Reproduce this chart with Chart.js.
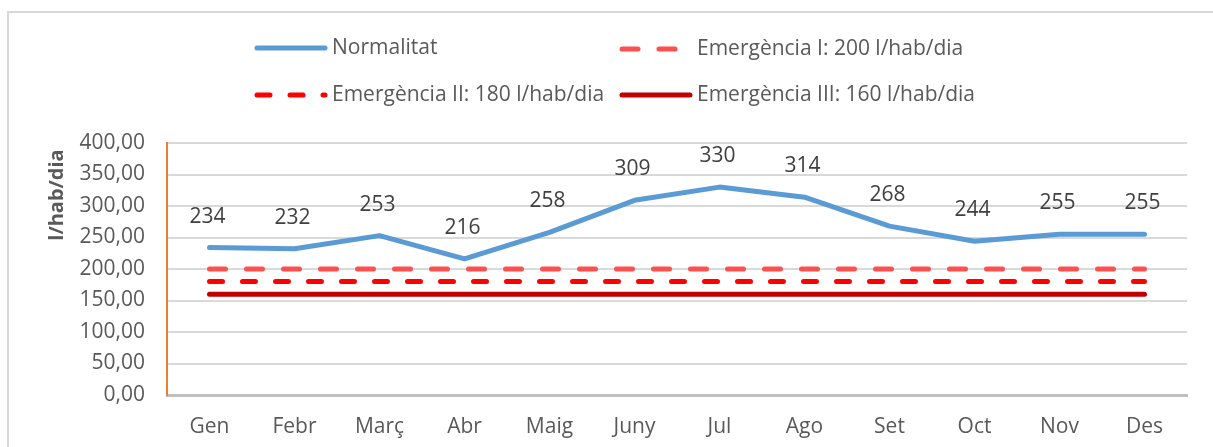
<!DOCTYPE html>
<html>
<head>
<meta charset="utf-8">
<script src="https://cdn.jsdelivr.net/npm/chart.js@4.4.1/dist/chart.umd.min.js"></script>
<style>
  html, body { margin: 0; padding: 0; background: #fff; }
  #wrap { position: relative; width: 1213px; height: 447px; }
</style>
</head>
<body>
<div id="wrap"><canvas id="chart" width="1213" height="447"></canvas></div>
<script>
// months and consumption (l/hab/dia)
const months = ['Gen', 'Febr', 'Març', 'Abr', 'Maig', 'Juny', 'Jul', 'Ago', 'Set', 'Oct', 'Nov', 'Des'];
const normalitat = [234, 232, 253, 216, 258, 309, 330, 314, 268, 244, 255, 255];
const emergencia1 = [200, 200, 200, 200, 200, 200, 200, 200, 200, 200, 200, 200];
const emergencia2 = [180, 180, 180, 180, 180, 180, 180, 180, 180, 180, 180, 180];
const emergencia3 = [160, 160, 160, 160, 160, 160, 160, 160, 160, 160, 160, 160];
const seriesNames = ['Normalitat', 'Emergència I: 200 l/hab/dia', 'Emergència II: 180 l/hab/dia', 'Emergència III: 160 l/hab/dia'];
const yTicks = [0, 50, 100, 150, 200, 250, 300, 350, 400];

const FONT = "'Open Sans', sans-serif";
const TEXT = '#595959';

// outer frame like the Excel chart border
const framePlugin = {
  id: 'frame',
  beforeDraw(chart) {
    const ctx = chart.ctx;
    ctx.save();
    ctx.fillStyle = '#fff';
    ctx.fillRect(0, 0, chart.width, chart.height);
    ctx.strokeStyle = '#d9d9d9';
    ctx.lineWidth = 2;
    ctx.strokeRect(8, 12, chart.width + 20, chart.height + 20);
    ctx.restore();
  }
};

// value labels above the Normalitat line
const labelPlugin = {
  id: 'valueLabels',
  afterDatasetsDraw(chart) {
    const ctx = chart.ctx;
    const meta = chart.getDatasetMeta(0);
    ctx.save();
    ctx.font = '21px ' + FONT;
    ctx.fillStyle = '#404040';
    ctx.textAlign = 'center';
    ctx.textBaseline = 'middle';
    meta.data.forEach(function(pt, i) {
      ctx.fillText(String(normalitat[i]), pt.x - 2, pt.y - 31);
    });
    ctx.restore();
  }
};

// legend in a 2x2 grid + rotated y title
const legendPlugin = {
  id: 'gridLegend',
  afterDraw(chart) {
    const ctx = chart.ctx;
    const spots = [[255, 48], [620, 49], [255, 95], [620, 95]];
    ctx.save();
    chart.data.datasets.forEach(function(ds, i) {
      const x = spots[i][0], y = spots[i][1];
      ctx.beginPath();
      ctx.strokeStyle = ds.borderColor;
      ctx.lineWidth = ds.borderWidth;
      ctx.lineCap = 'round';
      ctx.setLineDash(ds.borderDash || []);
      ctx.moveTo(x + 2, y);
      ctx.lineTo(x + 70, y);
      ctx.stroke();
      ctx.setLineDash([]);
      ctx.font = '21px ' + FONT;
      ctx.fillStyle = TEXT;
      ctx.textAlign = 'left';
      ctx.textBaseline = 'middle';
      ctx.fillText(seriesNames[i], x + 77, y);
    });
    ctx.translate(57, 195);
    ctx.rotate(-Math.PI / 2);
    ctx.font = 'bold 20px ' + FONT;
    ctx.fillStyle = TEXT;
    ctx.textAlign = 'center';
    ctx.textBaseline = 'middle';
    ctx.fillText('l/hab/dia', 0, 0);
    ctx.restore();
  }
};

new Chart(document.getElementById('chart'), {
  type: 'line',
  data: {
    labels: months,
    datasets: [
      {label: seriesNames[0], data: normalitat, borderColor: '#5B9BD5', borderWidth: 5, borderCapStyle: 'round', borderJoinStyle: 'round'},
      {label: seriesNames[1], data: emergencia1, borderColor: '#FF5050', borderWidth: 5, borderCapStyle: 'round', borderDash: [16, 21]},
      {label: seriesNames[2], data: emergencia2, borderColor: '#FF0000', borderWidth: 5, borderCapStyle: 'round', borderDash: [13, 20]},
      {label: seriesNames[3], data: emergencia3, borderColor: '#C00000', borderWidth: 5, borderCapStyle: 'round'}
    ]
  },
  options: {
    responsive: false,
    animation: false,
    layout: {padding: {top: 143, right: 26, bottom: 0, left: 0}},
    elements: {point: {radius: 0, hoverRadius: 0}, line: {tension: 0, fill: false}},
    plugins: {legend: {display: false}, tooltip: {enabled: false}},
    scales: {
      x: {
        offset: true,
        grid: {display: false, drawTicks: false},
        border: {display: true, color: '#bfbfbf', width: 3},
        ticks: {color: TEXT, font: {family: FONT, size: 21}, padding: 19},
        afterFit(scale) { scale.height = 52; }
      },
      y: {
        min: 0,
        max: 400,
        afterBuildTicks(scale) { scale.ticks = yTicks.map(v => ({value: v})); },
        grid: {color: '#d9d9d9', lineWidth: 2, drawTicks: false},
        border: {display: true, color: '#ED7D31', width: 2},
        ticks: {
          color: TEXT,
          font: {family: FONT, size: 21},
          padding: 22,
          callback: v => v.toFixed(2).replace('.', ',')
        },
        afterFit(scale) { scale.width = 167; }
      }
    }
  },
  plugins: [framePlugin, labelPlugin, legendPlugin]
});
</script>
</body>
</html>
